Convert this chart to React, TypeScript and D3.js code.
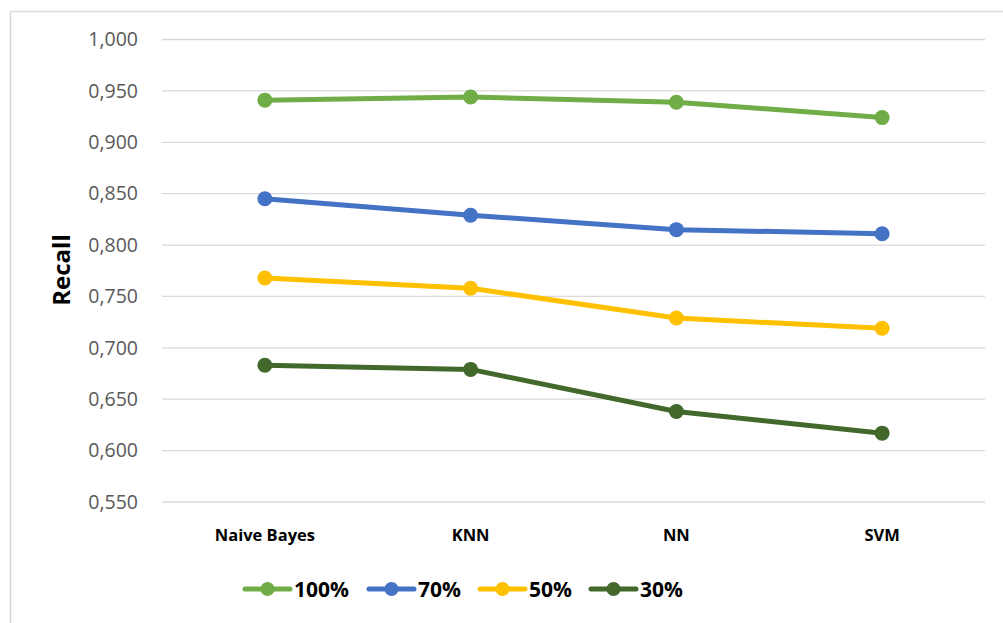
import React, { useRef, useEffect } from "react";
import * as d3 from "d3";

const categories = ["Naive Bayes", "KNN", "NN", "SVM"];
const seriesNames = ["100%", "70%", "50%", "30%"];
const recall100 = [0.941, 0.944, 0.939, 0.924];
const recall70 = [0.845, 0.829, 0.815, 0.811];
const recall50 = [0.768, 0.758, 0.729, 0.719];
const recall30 = [0.683, 0.679, 0.638, 0.617];
const yTicks = [0.55, 0.6, 0.65, 0.7, 0.75, 0.8, 0.85, 0.9, 0.95, 1.0];
const colors = ["#70ad47", "#4472c4", "#ffc000", "#43682b"];

const App = () => {
  const svgRef = useRef<SVGSVGElement>(null);

  useEffect(() => {
    const svg = d3.select(svgRef.current);
    svg.selectAll("*").remove();

    const width = 1003;
    const height = 623;
    const left = 162;
    const right = 985;
    const top = 39.5;
    const bottom = 502;
    const font = "'Open Sans', 'Noto Sans', sans-serif";

    const series = [recall100, recall70, recall50, recall30].map((vals, i) => ({
      name: seriesNames[i],
      color: colors[i],
      values: vals,
    }));

    svg.append("rect").attr("width", width).attr("height", height).attr("fill", "#fff");
    // chart frame
    svg
      .append("path")
      .attr("d", `M${width + 5},11.5 H10.5 V${height + 5}`)
      .attr("fill", "none")
      .attr("stroke", "#d9d9d9")
      .attr("stroke-width", 1.5);

    const x = d3.scaleBand().domain(categories).range([left, right]);
    const y = d3.scaleLinear().domain([0.55, 1.0]).range([bottom, top]);

    const g = svg.append("g");

    g.selectAll("line.grid")
      .data(yTicks)
      .enter()
      .append("line")
      .attr("class", "grid")
      .attr("x1", left)
      .attr("x2", right)
      .attr("y1", (d) => y(d))
      .attr("y2", (d) => y(d))
      .attr("stroke", "#d9d9d9")
      .attr("stroke-width", 1.3);

    const fmt = (d: number) => d3.format(".3f")(d).replace(".", ",");

    g.selectAll("text.ytick")
      .data(yTicks)
      .enter()
      .append("text")
      .attr("class", "ytick")
      .attr("x", 138)
      .attr("y", (d) => y(d))
      .attr("dy", "0.35em")
      .attr("text-anchor", "end")
      .attr("font-family", font)
      .attr("font-size", 19.5)
      .attr("fill", "#595959")
      .text(fmt);

    g.selectAll("text.xtick")
      .data(categories)
      .enter()
      .append("text")
      .attr("class", "xtick")
      .attr("x", (d) => (x(d) as number) + x.bandwidth() / 2)
      .attr("y", 541)
      .attr("text-anchor", "middle")
      .attr("font-family", font)
      .attr("font-size", 16.5)
      .attr("font-weight", "bold")
      .attr("fill", "#000")
      .text((d) => d);

    svg
      .append("text")
      .attr("transform", "translate(70,270) rotate(-90)")
      .attr("text-anchor", "middle")
      .attr("font-family", font)
      .attr("font-size", 24)
      .attr("font-weight", "bold")
      .attr("fill", "#000")
      .text("Recall");

    const line = d3
      .line<number>()
      .x((_, i) => (x(categories[i]) as number) + x.bandwidth() / 2)
      .y((d) => y(d));

    series.forEach((s) => {
      g.append("path")
        .attr("d", line(s.values))
        .attr("fill", "none")
        .attr("stroke", s.color)
        .attr("stroke-width", 5)
        .attr("stroke-linejoin", "round")
        .attr("stroke-linecap", "round");
      g.selectAll(null)
        .data(s.values)
        .enter()
        .append("circle")
        .attr("cx", (_, i) => (x(categories[i]) as number) + x.bandwidth() / 2)
        .attr("cy", (d) => y(d))
        .attr("r", 7.5)
        .attr("fill", s.color);
    });

    // legend
    const legendX = [245, 369, 480, 591];
    const legendY = 589;
    series.forEach((s, i) => {
      const lg = svg.append("g").attr("transform", `translate(${legendX[i]},${legendY})`);
      lg.append("line")
        .attr("x1", 0)
        .attr("x2", 45)
        .attr("stroke", s.color)
        .attr("stroke-width", 5)
        .attr("stroke-linecap", "round");
      lg.append("circle").attr("cx", 22.5).attr("r", 7).attr("fill", s.color);
      lg.append("text")
        .attr("x", 49)
        .attr("dy", "0.36em")
        .attr("font-family", font)
        .attr("font-size", 21)
        .attr("font-weight", "bold")
        .attr("fill", "#000")
        .text(s.name);
    });
  }, []);

  return (
    <div style={{ position: "fixed", left: 0, top: 0 }}>
      <svg ref={svgRef} width={1003} height={623} style={{ display: "block" }}></svg>
    </div>
  );
};

export default App;
